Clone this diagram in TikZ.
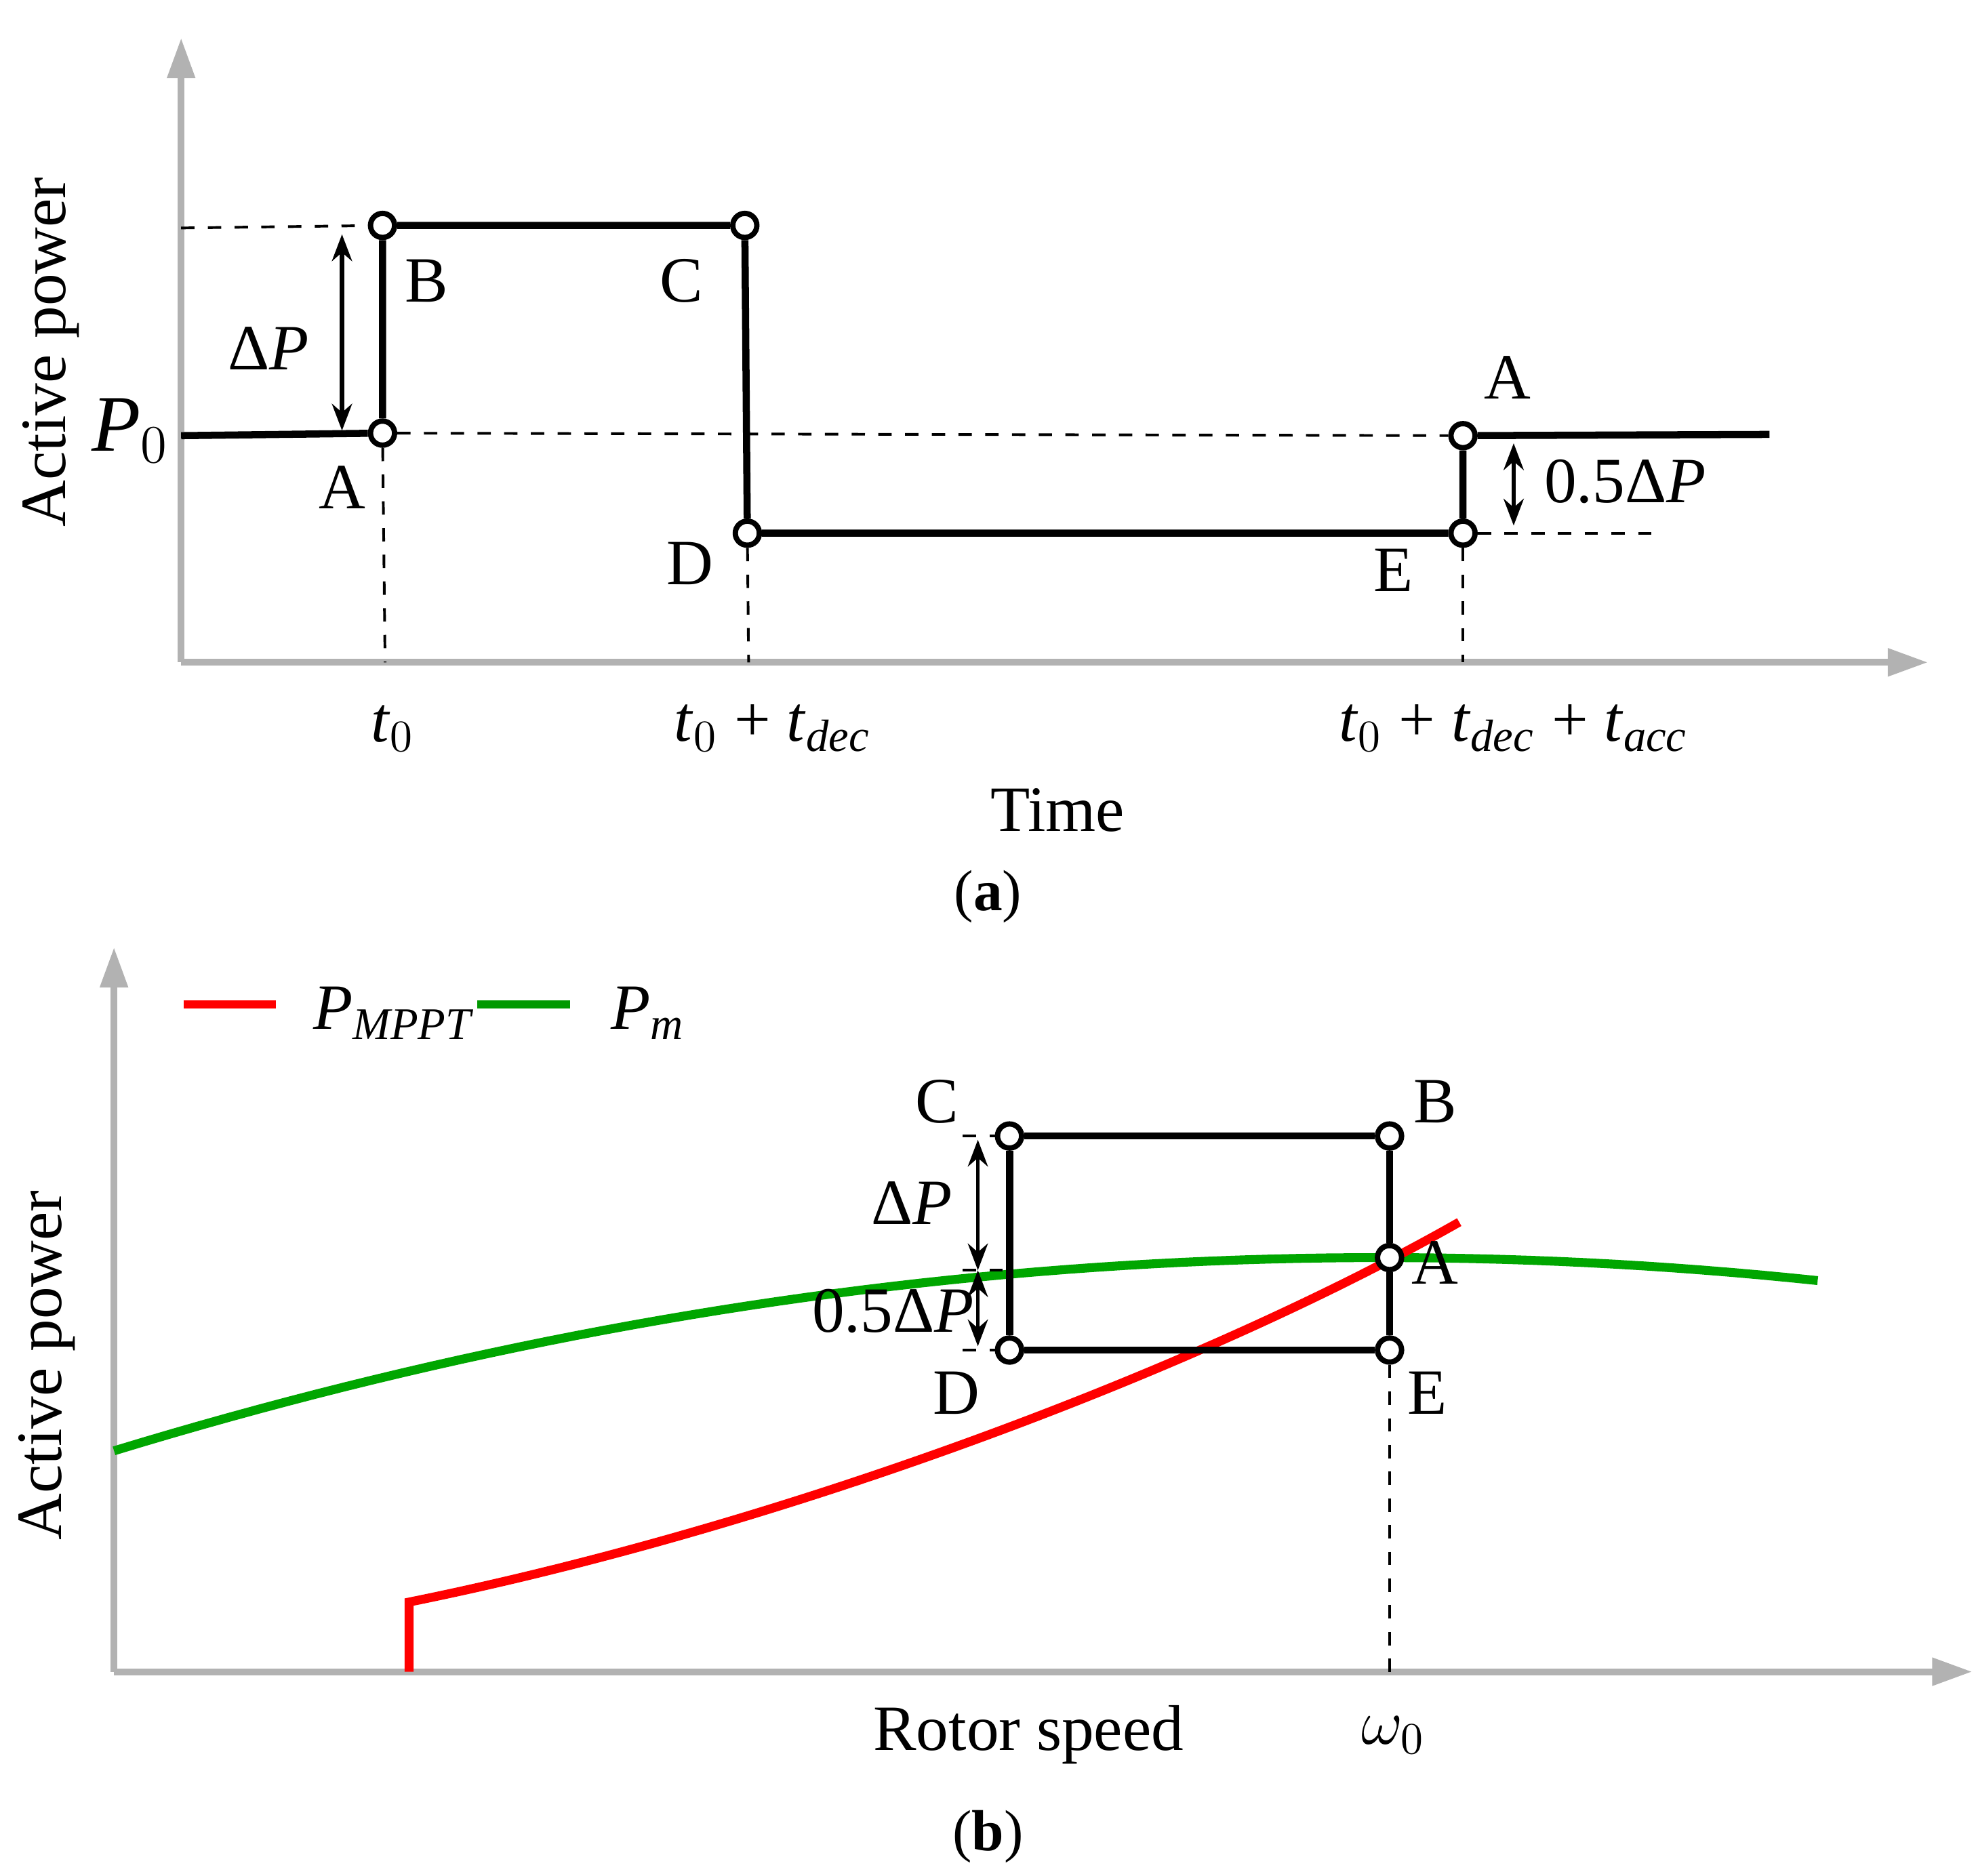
\documentclass[tikz,border=0pt]{standalone}
\usepackage{fontspec}
\setmainfont{Liberation Serif}
\usetikzlibrary{arrows.meta}
\begin{document}
\begin{tikzpicture}[x=0.01cm,y=-0.01cm,
 ax/.style={gray!60,line width=1.5pt,-{Triangle[length=9pt,width=6pt]}},
 blk/.style={line width=1.6pt,black},
 dsh/.style={dashed,line width=0.6pt},
 pt/.style={circle,draw=black,fill=white,line width=1.2pt,inner sep=0pt,minimum size=0.19cm},
 lab/.style={font=\fontsize{14.5}{17}\selectfont},
 dbl/.style={line width=1pt,{Stealth[length=6pt]}-{Stealth[length=6pt]}}]
\useasboundingbox (0,0) rectangle (1560,1481);
% ---------- panel a
\coordinate (o1) at (143,523);
\coordinate (yt1) at (143,30);
\coordinate (xt1) at (1522,523);
\draw[ax] (o1) -- (yt1);
\draw[ax] (o1) -- (xt1);
\node[pt] (A) at (302,342) {};
\node[pt] (B) at (302,178) {};
\node[pt] (C) at (588,178) {};
\node[pt] (D) at (590,421) {};
\node[pt] (E) at (1155,421) {};
\node[pt] (A2) at (1155,344) {};
\coordinate (p0) at (143,344);
\coordinate (aend) at (1397,343);
\draw[blk] (p0) -- (A);
\draw[blk] (A) -- (B) -- (C) -- (D) -- (E) -- (A2) -- (aend);
\draw[dsh] (A) -- (A2);
\draw[dsh] (143,180) -- (B);
\draw[dsh] (A) -- (304,523);
\draw[dsh] (D) -- (591,523);
\draw[dsh] (E) -- (1155,523);
\draw[dsh] (E) -- (1312,421);
\draw[dbl] (270,185) -- (270,340);
\draw[dbl] (1195,350) -- (1195,415);
\node[lab] at (337,222) {B};
\node[lab] at (538,222) {C};
\node[lab] at (270,385) {A};
\node[lab] at (545,445) {D};
\node[lab] at (1100,450) {E};
\node[lab] at (1190,298) {A};
\node[lab] at (212,275) {Δ\textit{P}};
\node[lab,font=\fontsize{18}{20}\selectfont] at (103,340) {\textit{P}$_0$};
\node[lab] at (1283,380) {0.5Δ\textit{P}};
\node[lab] at (310,575) {\textit{t}$_0$};
\node[lab] at (610,575) {\textit{t}$_0$ + \textit{t}$_{\mathit{dec}}$};
\node[lab] at (1195,575) {\textit{t}$_0$ + \textit{t}$_{\mathit{dec}}$ + \textit{t}$_{\mathit{acc}}$};
\node[lab] at (835,640) {Time};
\node[font=\fontsize{13}{15}\selectfont] at (780,708) {(\textbf{a})};
\node[lab,rotate=90] at (40,278) {Active power};
% ---------- panel b
\coordinate (o2) at (90,1320);
\coordinate (yt2) at (90,748);
\coordinate (xt2) at (1557,1320);
\draw[ax] (o2) -- (yt2);
\draw[ax] (o2) -- (xt2);
\draw[red,line width=1.8pt] (145,793) -- (218,793);
\node[lab,anchor=west] at (235,800) {\textit{P}$_{\mathit{MPPT}}$};
\draw[green!60!black,line width=1.8pt] (377,793) -- (450,793);
\node[lab,anchor=west] at (470,800) {\textit{P}$_{\mathit{m}}$};
\draw[green!65!black,line width=2pt,domain=90:1435,samples=60] plot (\x,{993+0.000154*(\x-1090)*(\x-1090)});
\draw[red,line width=2pt] (323,1320) -- (323,1265) .. controls (620,1205) and (950,1080) .. (1152,965);
\node[pt] (Cb) at (797,897) {};
\node[pt] (Bb) at (1097,897) {};
\node[pt] (Eb) at (1097,1066) {};
\node[pt] (Db) at (797,1066) {};
\node[pt] (Ab) at (1097,993) {};
\draw[blk] (Cb) -- (Bb) -- (Ab) -- (Eb) -- (Db) -- (Cb);
\draw[dsh] (Eb) -- (1097,1320);
\draw[dsh] (760,897) -- (Cb);
\draw[dsh] (760,1066) -- (Db);
\draw[dsh] (760,1003) -- (797,1003);
\draw[dbl,line width=0.8pt] (772,900) -- (772,1003);
\draw[dbl,line width=0.8pt] (772,1003) -- (772,1063);
\node[lab] at (740,870) {C};
\node[lab] at (1133,870) {B};
\node[lab] at (1133,997) {A};
\node[lab] at (755,1100) {D};
\node[lab] at (1127,1100) {E};
\node[lab] at (720,950) {Δ\textit{P}};
\node[lab] at (705,1035) {0.5Δ\textit{P}};
\node[lab] at (812,1370) {Rotor speed};
\node[lab] at (1100,1370) {$\omega_0$};
\node[font=\fontsize{13}{15}\selectfont] at (780,1450) {(\textbf{b})};
\node[lab,rotate=90] at (37,1078) {Active power};
\end{tikzpicture}
\end{document}
